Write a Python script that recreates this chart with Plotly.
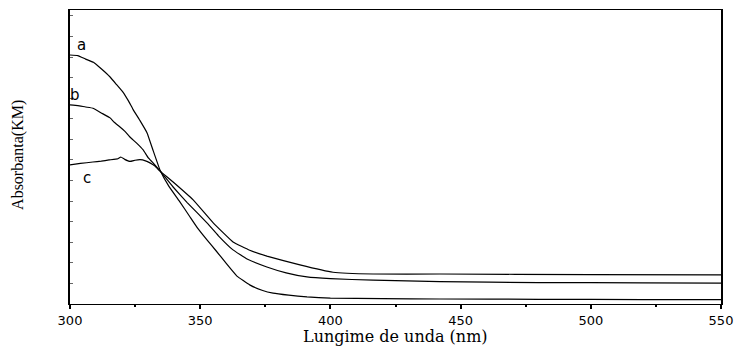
import plotly.graph_objects as go

# Wavelength (nm) and Kubelka-Munk absorbance (arbitrary units)
wl_a = [300, 303, 306, 309, 312, 315.4, 318, 320.4, 322.5, 324.2, 327, 329.6, 332, 334.6,
        338, 342, 346.1, 349, 352.6, 356, 360, 364.1, 369, 374, 378, 384, 391, 400, 420, 442, 480, 520, 550]
ab_a = [0.847, 0.845, 0.833, 0.822, 0.800, 0.772, 0.745, 0.720, 0.690, 0.662, 0.622, 0.582, 0.520, 0.455,
        0.400, 0.350, 0.296, 0.258, 0.218, 0.182, 0.138, 0.095, 0.065, 0.046, 0.037, 0.030, 0.024, 0.020, 0.018, 0.017, 0.016, 0.015, 0.015]

wl_b = [300, 303, 306, 308.8, 312, 315.4, 317, 319.2, 321, 323, 325.5, 328.1, 330, 331.9, 334.6,
        339.6, 345, 352.6, 357, 362.6, 368, 375.6, 383, 391, 400, 416.4, 442, 480, 520, 550]
ab_b = [0.677, 0.675, 0.670, 0.666, 0.650, 0.633, 0.618, 0.602, 0.588, 0.568, 0.548, 0.524, 0.498, 0.480, 0.452,
        0.398, 0.345, 0.276, 0.232, 0.184, 0.153, 0.126, 0.106, 0.092, 0.086, 0.081, 0.076, 0.073, 0.072, 0.071]

wl_c = [300, 304, 308.8, 312, 315, 318.4, 319.5, 321, 323, 325, 326.9, 329, 330.7, 332.5, 334.6,
        339.6, 347.3, 355, 362.6, 369, 375.6, 388.3, 401, 416.4, 442, 500, 550]
ab_c = [0.473, 0.478, 0.483, 0.486, 0.490, 0.494, 0.500, 0.492, 0.485, 0.489, 0.491, 0.487, 0.480, 0.470, 0.452,
        0.415, 0.354, 0.276, 0.211, 0.183, 0.163, 0.133, 0.108, 0.102, 0.102, 0.100, 0.099]

labels = ["a", "b", "c"]
label_x = [304.6, 301.9, 306.5]
label_y = [0.881, 0.711, 0.429]

x_ticks = [300, 350, 400, 450, 500, 550]

fig = go.Figure()
for wl, ab, name in [(wl_a, ab_a, "a"), (wl_b, ab_b, "b"), (wl_c, ab_c, "c")]:
    fig.add_trace(go.Scatter(x=wl, y=ab, mode="lines", name=name,
                             line=dict(color="black", width=1.2, shape="spline", smoothing=0.3),
                             showlegend=False))

for t, lx, ly in zip(labels, label_x, label_y):
    fig.add_annotation(x=lx, y=ly, text=t, showarrow=False,
                       font=dict(family="DejaVu Sans", size=15, color="black"))

# axis titles as paper-anchored text
fig.add_annotation(xref="paper", yref="paper", x=0.5, y=-0.109, text="Lungime de unda (nm)",
                   showarrow=False, xanchor="center", yanchor="middle",
                   font=dict(family="DejaVu Serif", size=16, color="black"))
fig.add_annotation(xref="paper", yref="paper", x=-0.0799, y=0.507, text="Absorbanta(KM)",
                   showarrow=False, xanchor="center", yanchor="middle", textangle=-90,
                   font=dict(family="Liberation Serif", size=16, color="black"))

fig.update_layout(
    width=740, height=346,
    margin=dict(l=70, r=19, t=10, b=42),
    paper_bgcolor="white", plot_bgcolor="white",
    xaxis=dict(range=[300, 550], tickvals=x_ticks, ticktext=[str(v) for v in x_ticks],
               automargin=False,
               showline=True, linecolor="black", linewidth=1.3, mirror=True,
               ticks="outside", ticklen=4, tickwidth=1.5, tickcolor="black",
               minor=dict(ticks="outside", ticklen=2, tickwidth=1.5, tickcolor="black", dtick=25),
               showgrid=False, zeroline=False,
               tickfont=dict(family="DejaVu Sans", size=13, color="black")),
    yaxis=dict(range=[0, 1], showticklabels=False, automargin=False,
               showline=True, linecolor="black", linewidth=2, mirror=True,
               ticks="inside", ticklen=3, tickwidth=1, tickcolor="#666", dtick=0.07,
               showgrid=False, zeroline=False),
)

fig.write_html("out.html")
